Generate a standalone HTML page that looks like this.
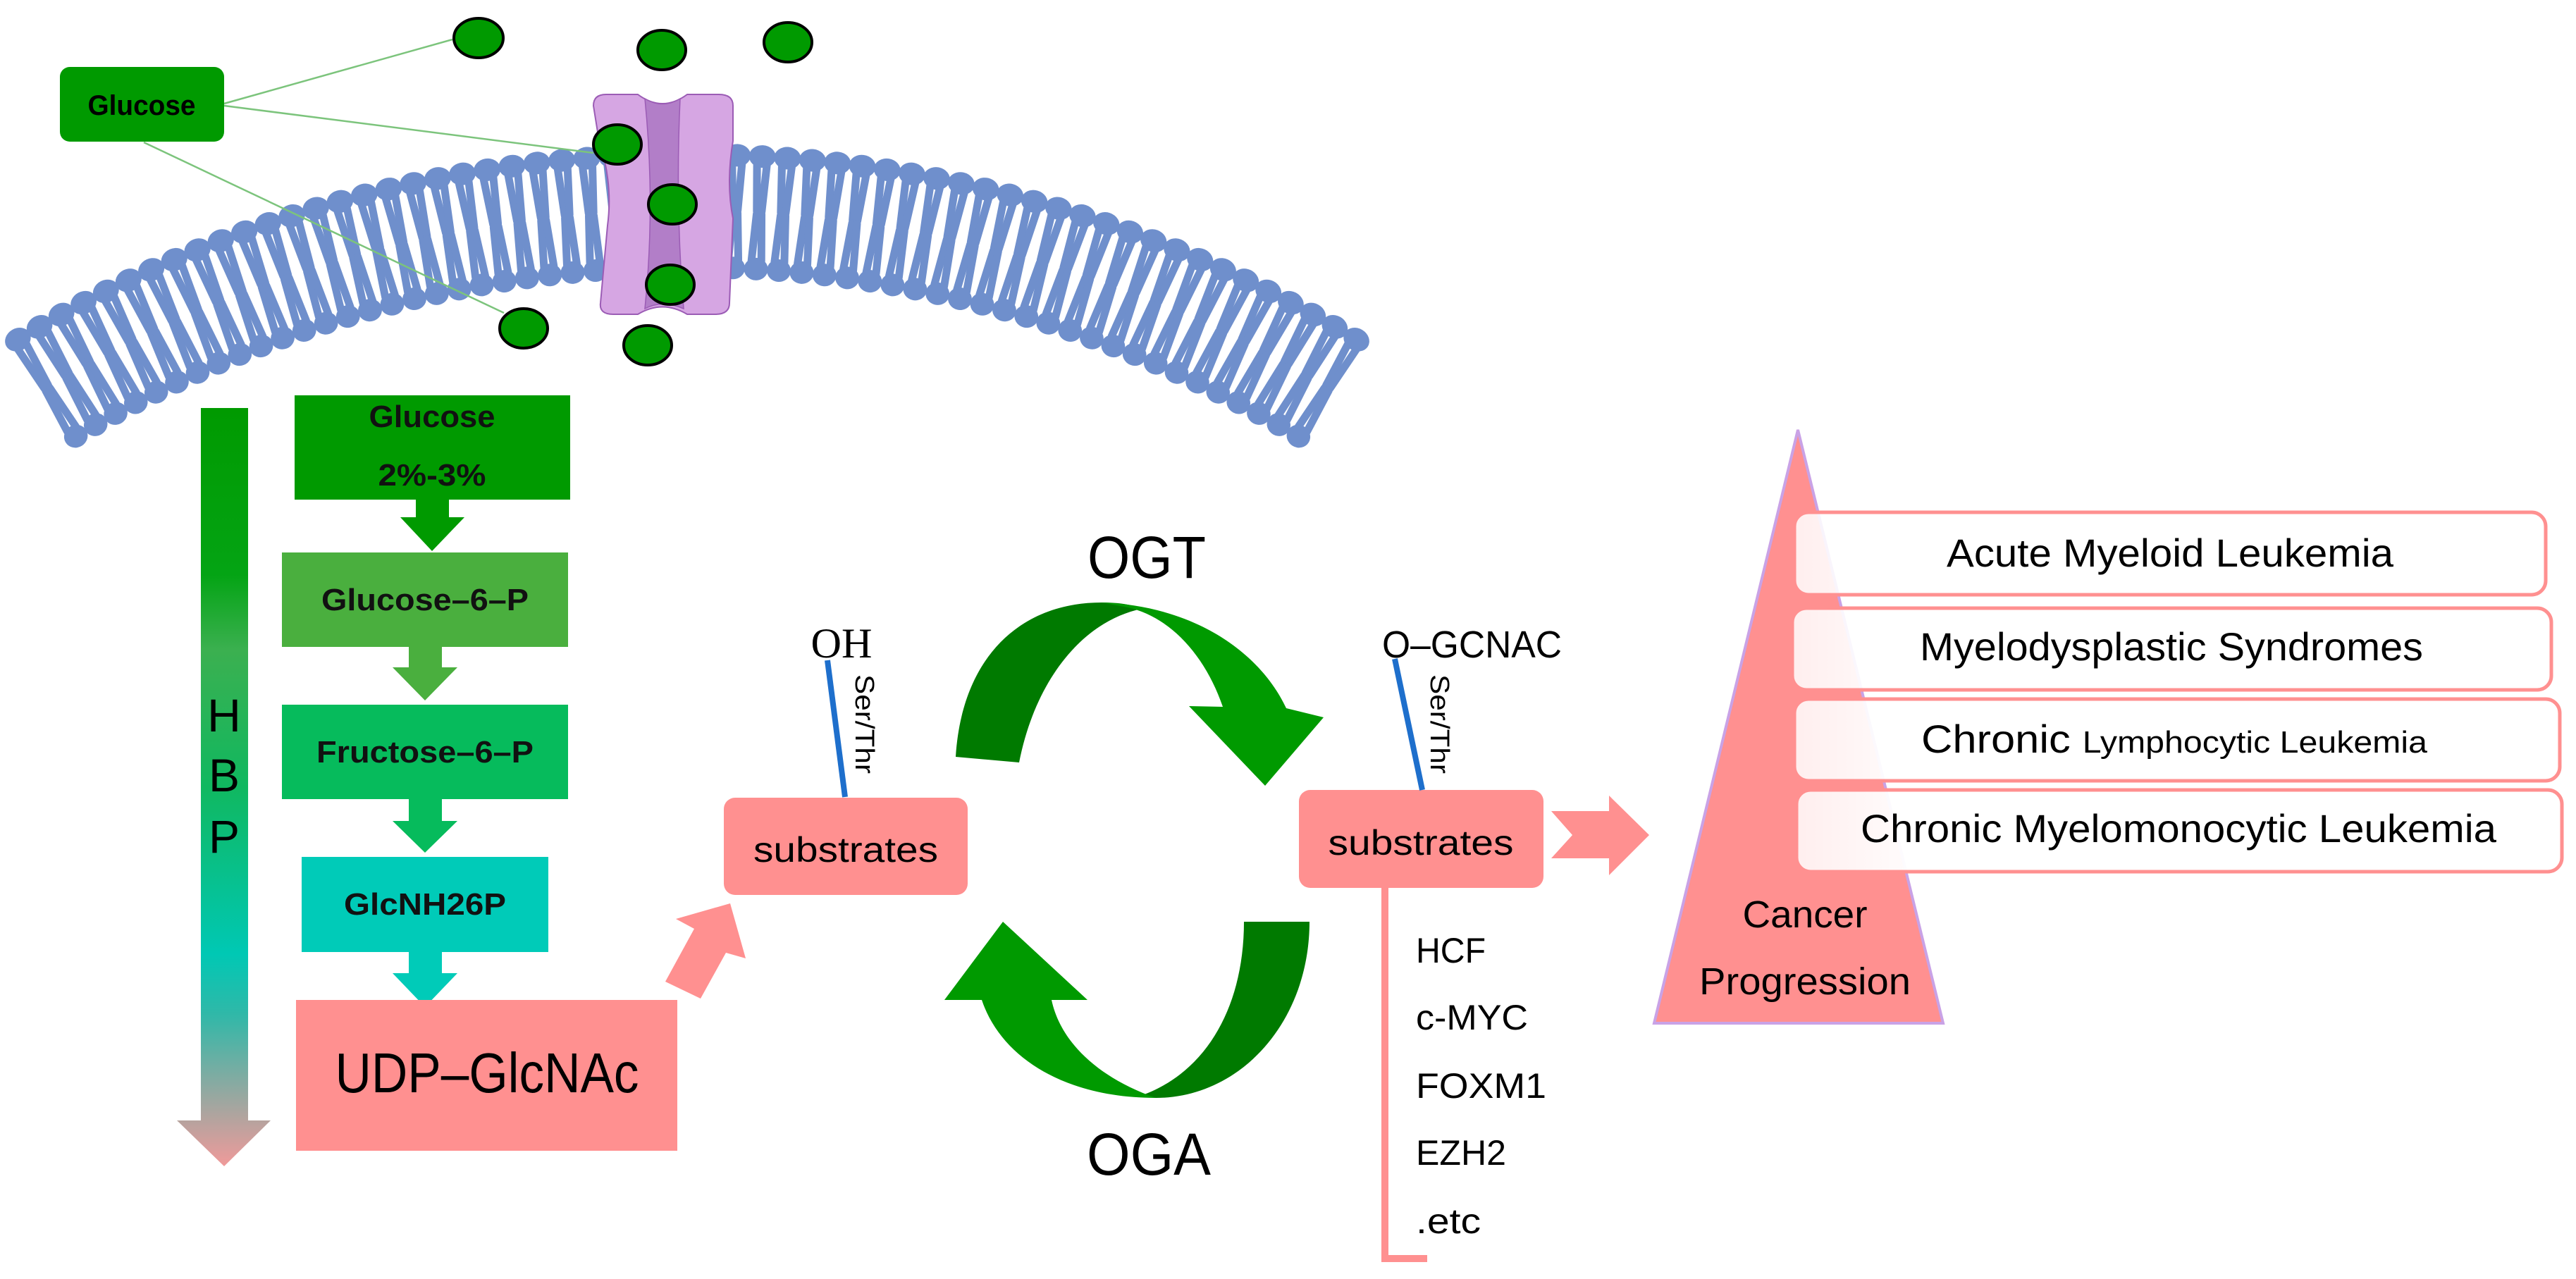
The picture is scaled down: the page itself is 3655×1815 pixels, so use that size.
<!DOCTYPE html>
<html><head><meta charset="utf-8">
<style>
html,body{margin:0;padding:0;background:#fff;}
svg{display:block;}
text{font-family:"Liberation Sans",sans-serif;}
</style></head>
<body>
<svg id="s" width="3655" height="1815" viewBox="0 0 3655 1815" xmlns="http://www.w3.org/2000/svg">
<defs>
<linearGradient id="hbp" x1="0" y1="0" x2="0" y2="1">
<stop offset="0" stop-color="#009a00"/>
<stop offset="0.22" stop-color="#04a414"/>
<stop offset="0.32" stop-color="#3bb050"/>
<stop offset="0.5" stop-color="#10b860"/>
<stop offset="0.72" stop-color="#00c8b4"/>
<stop offset="0.8" stop-color="#30b8a8"/>
<stop offset="1" stop-color="#f09a9a"/>
</linearGradient>
<linearGradient id="bx" x1="0" y1="0" x2="1" y2="0">
<stop offset="0" stop-color="#fff" stop-opacity="0.85"/>
<stop offset="0.12" stop-color="#fff" stop-opacity="0.95"/>
<stop offset="0.2" stop-color="#fff" stop-opacity="1"/>
</linearGradient>
</defs>
<g id="mem"></g>

<!-- channel -->
<path d="M842,150 Q842,134 860,134 L905,134 Q940,160 975,134 L1020,134 Q1040,134 1040,150 L1040,200 Q1030,260 1040,310 L1035,430 Q1035,446 1015,446 L975,446 Q940,425 905,446 L870,446 Q850,446 852,430 L862,320 Q870,260 850,200 Z" fill="#d6a6e3" stroke="#9b5cb5" stroke-width="2"/>
<path d="M915,140 Q940,155 965,140 Q958,290 970,438 Q940,425 915,438 Q930,290 915,140 Z" fill="#b27ec8" stroke="#9b5cb5" stroke-width="1.5"/>

<!-- glucose lines -->
<g stroke="#7cc47c" stroke-width="2.5">
<line x1="318" y1="147" x2="642" y2="56"/>
<line x1="318" y1="150" x2="842" y2="217"/>
<line x1="204" y1="202" x2="715" y2="444"/>
</g>
<rect x="85" y="95" width="233" height="106" rx="14" fill="#009a00"/>
<text x="201" y="163" font-size="40" font-weight="bold" text-anchor="middle" textLength="153" lengthAdjust="spacingAndGlyphs">Glucose</text>

<g fill="#009a00" stroke="#000" stroke-width="4">
<ellipse cx="679" cy="54" rx="35" ry="28"/>
<ellipse cx="939" cy="71" rx="34" ry="28"/>
<ellipse cx="1118" cy="60" rx="34" ry="28"/>
<ellipse cx="876" cy="205" rx="34" ry="28"/>
<ellipse cx="954" cy="290" rx="34" ry="28"/>
<ellipse cx="951" cy="404" rx="34" ry="28"/>
<ellipse cx="743" cy="466" rx="34" ry="28"/>
<ellipse cx="919" cy="490" rx="34" ry="28"/>
</g>

<!-- HBP arrow -->
<path d="M285,579 L352,579 L352,1590 L384,1590 L318,1655 L251,1590 L285,1590 Z" fill="url(#hbp)"/>
<g font-size="66" text-anchor="middle" fill="#000">
<text x="318" y="1038">H</text>
<text x="318" y="1123">B</text>
<text x="318" y="1210">P</text>
</g>

<!-- pathway -->
<rect x="418" y="561" width="391" height="148" fill="#009a00"/>
<path d="M590,708 L637,708 L637,734 L659,734 L613,782 L568,734 L590,734 Z" fill="#009a00"/>
<rect x="400" y="784" width="406" height="134" fill="#4aaf3e"/>
<path d="M580,917 L627,917 L627,947 L649,947 L603,994 L557,947 L580,947 Z" fill="#4aaf3e"/>
<rect x="400" y="1000" width="406" height="134" fill="#06bb5c"/>
<path d="M580,1133 L627,1133 L627,1165 L649,1165 L603,1210 L557,1165 L580,1165 Z" fill="#06bb5c"/>
<rect x="428" y="1216" width="350" height="135" fill="#00cbb8"/>
<path d="M580,1350 L627,1350 L627,1381 L649,1381 L603,1429 L557,1381 L580,1381 Z" fill="#00cbb8"/>
<rect x="420" y="1419" width="541" height="214" fill="#ff9090"/>
<g font-weight="bold" text-anchor="middle" fill="#111">
<text x="613" y="606" font-size="44" textLength="179" lengthAdjust="spacingAndGlyphs">Glucose</text>
<text x="613" y="689" font-size="44" textLength="153" lengthAdjust="spacingAndGlyphs">2%-3%</text>
<text x="603" y="866" font-size="44" textLength="294" lengthAdjust="spacingAndGlyphs">Glucose–6–P</text>
<text x="603" y="1082" font-size="44" textLength="308" lengthAdjust="spacingAndGlyphs">Fructose–6–P</text>
<text x="603" y="1298" font-size="44" textLength="230" lengthAdjust="spacingAndGlyphs">GlcNH26P</text>
</g>
<text x="691" y="1550" font-size="80" text-anchor="middle" textLength="431" lengthAdjust="spacingAndGlyphs">UDP–GlcNAc</text>

<!-- pink diagonal arrow -->
<path d="M944,1393 L994,1417 L1030,1352 L1058,1360 L1036,1282 L959,1304 L985,1318 Z" fill="#ff9090"/>

<!-- left substrates -->
<rect x="1027" y="1132" width="346" height="138" rx="16" fill="#ff9090"/>
<text x="1200" y="1223" font-size="50" text-anchor="middle" textLength="262" lengthAdjust="spacingAndGlyphs">substrates</text>
<line x1="1174" y1="937" x2="1199" y2="1131" stroke="#1e6fcc" stroke-width="8"/>
<text x="1194" y="933" font-size="60" text-anchor="middle" textLength="87" lengthAdjust="spacingAndGlyphs" style="font-family:'Liberation Serif',serif">OH</text>
<text transform="translate(1214,957) rotate(90)" font-size="38" textLength="141" lengthAdjust="spacingAndGlyphs">Ser/Thr</text>

<!-- OGT / OGA cycle -->
<text x="1627" y="820" font-size="84" text-anchor="middle" textLength="168" lengthAdjust="spacingAndGlyphs">OGT</text>
<text x="1630" y="1667" font-size="84" text-anchor="middle" textLength="176" lengthAdjust="spacingAndGlyphs">OGA</text>
<path d="M1356,1074 C1365,930 1450,855 1563,855 C1590,855 1605,858 1620,864 C1540,880 1470,960 1446,1082 Z" fill="#007a00"/>
<path d="M1563,855 C1700,860 1790,930 1825,1005 L1878,1018 L1795,1115 L1687,1002 L1735,1003 C1710,930 1660,875 1600,862 Z" fill="#009a00"/>
<path d="M1765,1308 L1858,1308 C1858,1450 1760,1558 1640,1558 L1615,1556 C1710,1525 1765,1430 1765,1308 Z" fill="#007a00"/>
<path d="M1393,1419 C1420,1500 1510,1558 1640,1558 C1560,1530 1505,1480 1492,1419 L1543,1419 L1423,1308 L1340,1419 Z" fill="#009a00"/>

<!-- right substrates -->
<rect x="1843" y="1121" width="347" height="139" rx="16" fill="#ff9090"/>
<text x="2016" y="1213" font-size="50" text-anchor="middle" textLength="263" lengthAdjust="spacingAndGlyphs">substrates</text>
<line x1="1979" y1="935" x2="2018" y2="1121" stroke="#1e6fcc" stroke-width="8"/>
<text x="1961" y="933" font-size="54" textLength="255" lengthAdjust="spacingAndGlyphs">O–GCNAC</text>
<text transform="translate(2030,957) rotate(90)" font-size="38" textLength="141" lengthAdjust="spacingAndGlyphs">Ser/Thr</text>
<path d="M1965,1258 L1965,1786 L2025,1786" fill="none" stroke="#ff9090" stroke-width="10"/>
<g font-size="50">
<text x="2009" y="1366" textLength="99" lengthAdjust="spacingAndGlyphs">HCF</text>
<text x="2009" y="1461" textLength="159" lengthAdjust="spacingAndGlyphs">c-MYC</text>
<text x="2009" y="1558" textLength="185" lengthAdjust="spacingAndGlyphs">FOXM1</text>
<text x="2009" y="1653" textLength="128" lengthAdjust="spacingAndGlyphs">EZH2</text>
<text x="2009" y="1750" textLength="92" lengthAdjust="spacingAndGlyphs">.etc</text>
</g>
<path d="M2201,1151 L2283,1151 L2283,1129 L2340,1185 L2283,1242 L2283,1218 L2201,1218 L2231,1185 Z" fill="#ff9090"/>

<!-- triangle -->
<path d="M2551,610 L2757,1452 L2347,1452 Z" fill="#ff9090" stroke="#c9a2e6" stroke-width="4"/>
<text x="2561" y="1316" font-size="54" text-anchor="middle" textLength="177" lengthAdjust="spacingAndGlyphs">Cancer</text>
<text x="2561" y="1411" font-size="54" text-anchor="middle" textLength="300" lengthAdjust="spacingAndGlyphs">Progression</text>

<g stroke="#ff9090" stroke-width="5" fill="url(#bx)">
<rect x="2546" y="727" width="1066" height="117" rx="20"/>
<rect x="2543" y="863" width="1077" height="116" rx="20"/>
<rect x="2546" y="992" width="1086" height="116" rx="20"/>
<rect x="2549" y="1121" width="1086" height="116" rx="20"/>
</g>
<g font-size="56" text-anchor="middle">
<text x="3079" y="804" textLength="634" lengthAdjust="spacingAndGlyphs">Acute Myeloid Leukemia</text>
<text x="3081" y="937" textLength="714" lengthAdjust="spacingAndGlyphs">Myelodysplastic Syndromes</text>
<text x="3085" y="1068" textLength="718" lengthAdjust="spacingAndGlyphs">Chronic <tspan font-size="44">Lymphocytic Leukemia</tspan></text>
<text x="3091" y="1195" textLength="902" lengthAdjust="spacingAndGlyphs">Chronic Myelomonocytic Leukemia</text>
</g>
</svg>
<script>
(function(){
var g=document.getElementById('mem');
var cx=975,cy=2066,R=1847,N=57,span=1.080,col='#6f8fcc',h='';
for(var i=0;i<N;i++){
 var a=-span/2+span*i/(N-1);
 var sx=Math.sin(a),sy=-Math.cos(a);
 function P(r,o){return [cx+sx*r+(-sy)*o, cy+sy*r+sx*o];}
 var offs=[-7,7];
 for(var k=0;k<2;k++){
  var o=offs[k];
  var p1=P(R-12,o),p2=P(R-78,o*0.5),p3=P(R-82,o*0.5),p4=P(R-148,o);
  h+='<line x1="'+p1[0]+'" y1="'+p1[1]+'" x2="'+p2[0]+'" y2="'+p2[1]+'" stroke="'+col+'" stroke-width="11" stroke-linecap="round"/>';
  h+='<line x1="'+p3[0]+'" y1="'+p3[1]+'" x2="'+p4[0]+'" y2="'+p4[1]+'" stroke="'+col+'" stroke-width="11" stroke-linecap="round"/>';
 }
 var t=P(R,0),b=P(R-160,0),deg=a*180/Math.PI;
 h+='<ellipse cx="'+t[0]+'" cy="'+t[1]+'" rx="19" ry="16" fill="'+col+'" transform="rotate('+deg+' '+t[0]+' '+t[1]+')"/>';
 h+='<ellipse cx="'+b[0]+'" cy="'+b[1]+'" rx="17" ry="16" fill="'+col+'" transform="rotate('+deg+' '+b[0]+' '+b[1]+')"/>';
}
g.innerHTML=h;
})();
</script>
</body></html>
